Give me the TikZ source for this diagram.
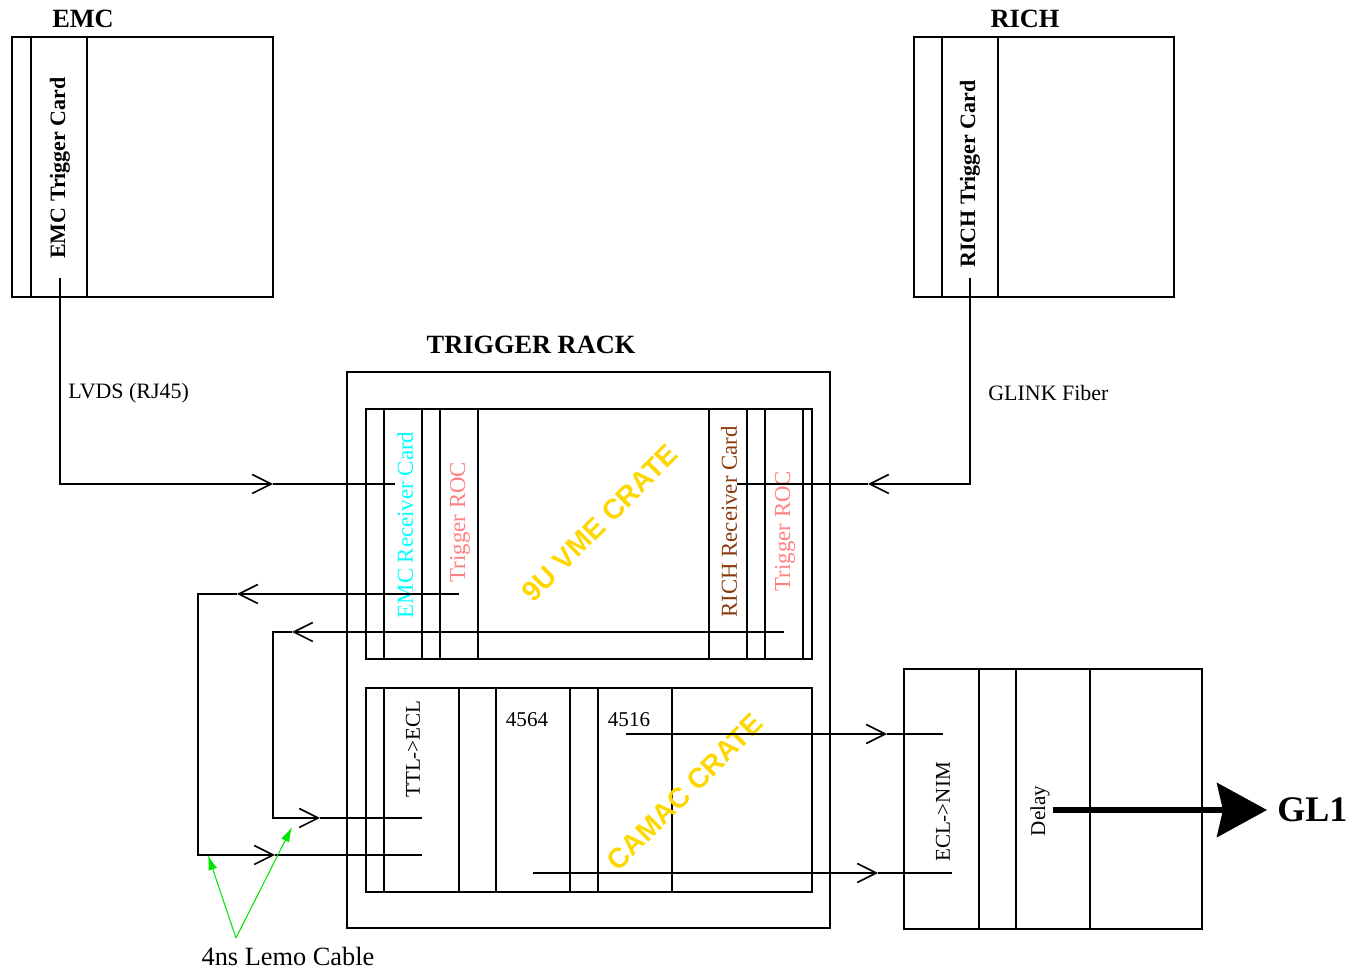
\documentclass[tikz,border=0pt]{standalone}
\usepackage{xcolor}
\usepackage{fontspec}
\setmainfont{Liberation Serif}
\setsansfont{Liberation Sans}
\usepackage{tikz}
\usetikzlibrary{arrows.meta}

\definecolor{rcvcyan}{RGB}{0,255,255}
\definecolor{rocpink}{RGB}{255,128,128}
\definecolor{richbrown}{RGB}{139,58,15}
\definecolor{crategold}{RGB}{255,215,0}
\definecolor{lemogreen}{RGB}{0,230,0}

\begin{document}
\begin{tikzpicture}[
  x=0.02cm, y=-0.02cm,
  every node/.style={inner sep=0pt},
  frame/.style   ={draw=black, line width=0.8pt},
  wire/.style    ={draw=black, line width=0.8pt},
  barb/.style    ={-{Straight Barb[length=3.8mm, width=3.8mm, line width=0.9pt]}, draw=black, line width=0.8pt},
  lemo/.style    ={-{Latex[length=3mm, width=1.8mm]}, draw=lemogreen, line width=0.6pt},
  bigarr/.style  ={-{Stealth[length=1cm, width=1.08cm, inset=0.12cm]}, draw=black, line width=0.12cm},
  title/.style   ={font=\fontsize{15}{18}\selectfont\bfseries},
  card/.style    ={rotate=90, font=\fontsize{12.5}{15}\selectfont\bfseries},
  slot/.style    ={rotate=90, font=\fontsize{13}{16}\selectfont},
  module/.style  ={font=\fontsize{12}{14}\selectfont},
  crate/.style   ={rotate=45, text=crategold, font=\sffamily\bfseries\fontsize{16}{19}\selectfont},
  cablename/.style={font=\fontsize{12.5}{15}\selectfont, anchor=west}
]
\useasboundingbox (0,0) rectangle (1350,972);

% EMC box, top left
\draw[frame] (12,37) rectangle (273,297);
\foreach \x in {31,87} \draw[frame] (\x,37) -- (\x,297);
\node[title] (emc)     at (83,19)  {EMC};
\node[card]  (emccard) at (60,168) {EMC Trigger Card};

% RICH box, top right
\draw[frame] (914,37) rectangle (1174,297);
\foreach \x in {942,998} \draw[frame] (\x,37) -- (\x,297);
\node[title] (rich)     at (1025,19) {RICH};
\node[card]  (richcard) at (970,174) {RICH Trigger Card};

% Trigger rack
\draw[frame] (347,372) rectangle (830,928);
\node[title] (rack) at (531,345) {TRIGGER RACK};

% 9U VME crate
\draw[frame] (366,409) rectangle (812,659);
\foreach \x in {384,422,440,478,709,747,765,803} \draw[frame] (\x,409) -- (\x,659);
\node[slot, text=rcvcyan]   (emcrcv)  at (405,525) {EMC Receiver Card};
\node[slot, text=rocpink]   (emcroc)  at (460,522) {Trigger ROC};
\node[slot, text=richbrown] (richrcv) at (729,522) {RICH Receiver Card};
\node[slot, text=rocpink]   (richroc) at (785,531) {Trigger ROC};
\node[crate] (vme) at (600,523) {9U VME CRATE};

% CAMAC crate
\draw[frame] (366,688) rectangle (812,892);
\foreach \x in {384,459,496,570,598,672} \draw[frame] (\x,688) -- (\x,892);
\node[module, rotate=90] (ttlecl)  at (413,749) {TTL->ECL};
\node[module]            (lecroya) at (527,720) {4564};
\node[module]            (lecroyb) at (629,720) {4516};
\node[crate] (camac) at (685,792) {CAMAC CRATE};

% NIM bin: ECL->NIM and delay
\draw[frame] (904,669) rectangle (1202,929);
\foreach \x in {979,1016,1090} \draw[frame] (\x,669) -- (\x,929);
\node[module, rotate=90] (eclnim) at (943,812)  {ECL->NIM};
\node[module, rotate=90] (delay)  at (1040,811) {Delay};
\node[font=\fontsize{20.5}{24}\selectfont\bfseries, anchor=west] (gl1) at (1277,810) {GL1};

% Cable names
\node[cablename] (lvds)  at (68,393)  {LVDS (RJ45)};
\node[cablename] (glink) at (988,393) {GLINK Fiber};
\node[font=\fontsize{15}{18}\selectfont] (lemoname) at (288,956) {4ns Lemo Cable};

% Connector end points
\coordinate (emcout)     at (60,278);
\coordinate (emcmark)    at (273,484);
\coordinate (emcin)      at (395,484);
\coordinate (richout)    at (970,278);
\coordinate (richmark)   at (868,484);
\coordinate (richin)     at (737,484);
\coordinate (emcrocout)  at (459,594);
\coordinate (outtopmark) at (237,594);
\coordinate (outleft)    at (198,720);
\coordinate (outbotmark) at (275,855);
\coordinate (ttlinb)     at (422,855);
\coordinate (richrocout) at (784,632);
\coordinate (intopmark)  at (292,632);
\coordinate (inleft)     at (273,720);
\coordinate (inbotmark)  at (320,818);
\coordinate (ttlina)     at (422,818);
\coordinate (camacouta)  at (626,734);
\coordinate (camacmarka) at (887,734);
\coordinate (nimina)     at (943,734);
\coordinate (camacoutb)  at (533,873);
\coordinate (camacmarkb) at (878,873);
\coordinate (niminb)     at (952,873);
\coordinate (lemofoot)   at (236,938);
\coordinate (lemoa)      at (208,855);
\coordinate (lemob)      at (292,827);
\coordinate (delayout)   at (1053,810);

% Detector links into the VME crate
\draw[barb] (emcout) |- (emcmark);
\draw[wire] (emcmark) -- (emcin);
\draw[barb] (richout) |- (richmark);
\draw[wire] (richmark) -- (richin);

% Lemo loops from the ROCs to TTL->ECL
\draw[barb] (emcrocout) -- (outtopmark);
\draw[barb] (outtopmark) -| (outleft) |- (outbotmark);
\draw[wire] (outbotmark) -- (ttlinb);
\draw[barb] (richrocout) -- (intopmark);
\draw[barb] (intopmark) -| (inleft) |- (inbotmark);
\draw[wire] (inbotmark) -- (ttlina);

% CAMAC outputs to the NIM bin
\draw[barb] (camacouta) -- (camacmarka);
\draw[wire] (camacmarka) -- (nimina);
\draw[barb] (camacoutb) -- (camacmarkb);
\draw[wire] (camacmarkb) -- (niminb);

% Lemo cable pointers
\draw[lemo] (lemofoot) -- (lemoa);
\draw[lemo] (lemofoot) -- (lemob);

% Output to GL1
\draw[bigarr] (delayout) -- ([xshift=-0.2cm]gl1.west);
\end{tikzpicture}
\end{document}
